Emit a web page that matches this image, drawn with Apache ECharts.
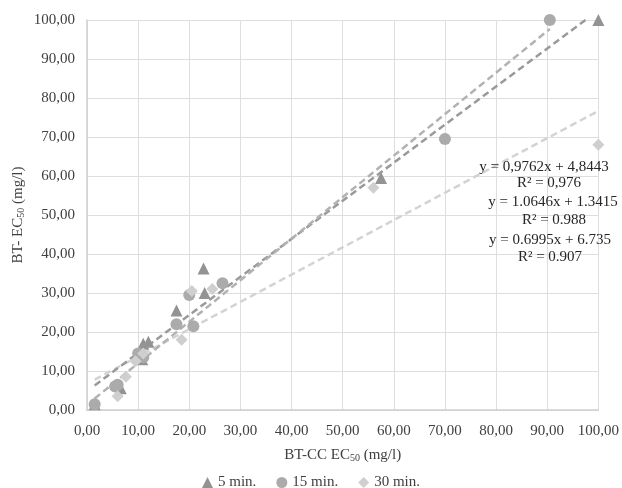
<!DOCTYPE html>
<html><head><meta charset="utf-8">
<script src="https://cdn.jsdelivr.net/npm/echarts@6/dist/echarts.min.js"></script>
<style>html,body{margin:0;padding:0;background:#fff}#c{width:622px;height:488px}</style>
</head><body><div id="c"></div>
<script>
const xTicks = [0,10,20,30,40,50,60,70,80,90,100];
const yTicks = [0,10,20,30,40,50,60,70,80,90,100];
const seriesNames = ['5 min.', '15 min.', '30 min.'];
const min5 = [[1.5,1.5],[6.6,5.6],[10.8,13],[11,17],[12,17.5],[17.5,25.5],[22.8,36.3],[23,30],[57.5,59.5],[100,100]];
const min15 = [[1.5,1.5],[5.5,6],[6,6.5],[10,14.5],[11,13.5],[17.5,22],[20,29.5],[20.8,21.5],[26.5,32.5],[70,69.5],[90.5,100]];
const min30 = [[6,3.5],[7.6,8.5],[9.5,12.5],[11,14.5],[18.5,18],[20.5,30.5],[24.5,31],[56,57],[100,68]];
const trend5 = {slope:0.9762, intercept:4.8443, from:1.5, to:100};
const trend15 = {slope:1.0646, intercept:1.3415, from:1.5, to:90.5};
const trend30 = {slope:0.6995, intercept:6.735, from:1.5, to:100};
const eqLabels = ['y = 0,9762x + 4,8443','R² = 0,976','y = 1.0646x + 1.3415','R² = 0.988','y = 0.6995x + 6.735','R² = 0.907'];

const fmt = v => v.toFixed(2).replace('.', ',');
const line = t => [[t.from, t.slope*t.from+t.intercept],[t.to, t.slope*t.to+t.intercept]];
const serif = 'Liberation Serif';
const colors = ['#939393','#ababab','#cfcfcf'];
const lineColors = ['#9a9a9a','#b2b2b2','#d3d3d3'];

const chart = echarts.init(document.getElementById('c'));
const eqY = [167,183,202,220,240,257];
chart.setOption({
  animation:false,
  textStyle:{fontFamily:serif},
  grid:{left:87,right:23,top:20,bottom:78},
  legend:{
    data:[{name:seriesNames[0],icon:'triangle'},{name:seriesNames[1],icon:'circle'},{name:seriesNames[2],icon:'diamond'}],
    top:475, left:'center', padding:0, itemWidth:11, itemHeight:11, itemGap:20,
    textStyle:{fontFamily:serif,fontSize:15,color:'#404040'}
  },
  xAxis:{
    type:'value', min:0, max:100, interval:10,
    name:'BT-CC EC{sub|50} (mg/l)', nameLocation:'middle', nameGap:37, nameMoveOverlap:false,
    nameTextStyle:{fontFamily:serif,fontSize:15,color:'#404040',rich:{sub:{fontSize:10,verticalAlign:'bottom',padding:[6,0,0,0],fontFamily:serif,color:'#404040'}}},
    axisLine:{lineStyle:{color:'#d0d0d0',width:1.5}},
    axisTick:{show:false},
    splitLine:{lineStyle:{color:'#dedede',width:1}},
    axisLabel:{formatter:fmt,fontFamily:serif,fontSize:15,color:'#404040',margin:14}
  },
  yAxis:{
    type:'value', min:0, max:100, interval:10,
    name:'BT- EC{sub|50} (mg/l)', nameLocation:'middle', nameGap:61, nameRotate:90, nameMoveOverlap:false,
    nameTextStyle:{fontFamily:serif,fontSize:15,color:'#404040',rich:{sub:{fontSize:10,verticalAlign:'bottom',padding:[6,0,0,0],fontFamily:serif,color:'#404040'}}},
    axisLine:{show:true,lineStyle:{color:'#d0d0d0',width:1.5}},
    axisTick:{show:false},
    splitLine:{lineStyle:{color:'#dedede',width:1}},
    axisLabel:{formatter:fmt,fontFamily:serif,fontSize:15,color:'#404040',margin:12}
  },
  series:[
    {type:'line',data:line(trend30),symbol:'none',clip:true,silent:true,lineStyle:{color:lineColors[2],width:2.5,type:[7,4]},z:1},
    {type:'line',data:line(trend5),symbol:'none',clip:true,silent:true,lineStyle:{color:lineColors[0],width:2.5,type:[7,4]},z:1},
    {type:'line',data:line(trend15),symbol:'none',clip:true,silent:true,lineStyle:{color:lineColors[1],width:2.5,type:[7,4]},z:1},
    {name:seriesNames[0],type:'scatter',data:min5,symbol:'triangle',symbolSize:12,itemStyle:{color:colors[0],opacity:1},z:3,clip:false},
    {name:seriesNames[1],type:'scatter',data:min15,symbol:'circle',symbolSize:12,itemStyle:{color:colors[1],opacity:1},z:3,clip:false},
    {name:seriesNames[2],type:'scatter',data:min30,symbol:'diamond',symbolSize:12,itemStyle:{color:colors[2],opacity:1},z:3,clip:false}
  ],
  graphic: eqLabels.map((t,i)=>({type:'text',x:[544,549,553,554,550,550][i],y:eqY[i],z:10,
    style:{text:t,fontFamily:serif,fontSize:15,fill:'#262626',align:'center',verticalAlign:'middle'}}))
});
</script></body></html>
